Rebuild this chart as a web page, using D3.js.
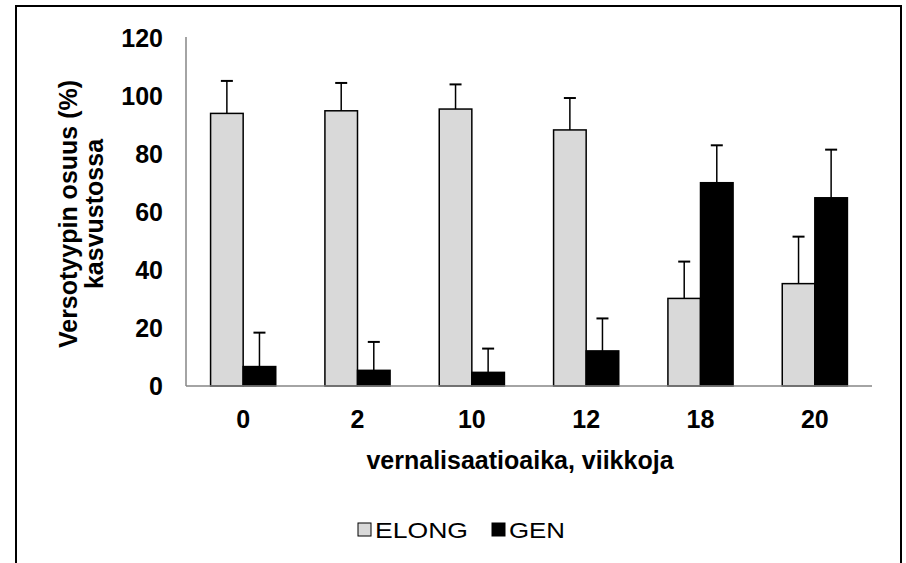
<!DOCTYPE html>
<html>
<head>
<meta charset="utf-8">
<script src="https://cdnjs.cloudflare.com/ajax/libs/d3/7.8.5/d3.min.js"></script>
<style>
    html, body { margin: 0; padding: 0; background: #fff; }
    svg { display: block; font-family: "Liberation Sans", Arial, sans-serif; }
</style>
</head>
<body>
<svg id="chart"></svg>
<script>
    'use strict';

    // weeks of vernalisation
    var categories = ['0', '2', '10', '12', '18', '20'];
    var seriesNames = ['ELONG', 'GEN'];
    var elongValues = [94.0, 94.9, 95.5, 88.3, 30.2, 35.3];
    var elongErrors = [11.2, 9.6, 8.5, 11.0, 12.7, 16.2];
    var genValues = [6.7, 5.4, 4.7, 12.1, 70.1, 64.9];
    var genErrors = [11.7, 9.8, 8.2, 11.2, 12.9, 16.6];
    var yTicks = [0, 20, 40, 60, 80, 100, 120];
    var seriesColors = ['#d9d9d9', '#000000'];

    (function (d3) {
        var width = 906;
        var height = 563;
        var boldSize = 25;

        var plotLeft = 186, plotRight = 872, plotTop = 38, plotBottom = 386;

        var svg = d3.select('#chart')
            .attr('width', width)
            .attr('height', height);

        // outer frame (bottom edge runs off the picture)
        svg.append('rect')
            .attr('x', 16)
            .attr('y', 6)
            .attr('width', 885)
            .attr('height', 600)
            .attr('fill', 'none')
            .attr('stroke', '#000')
            .attr('stroke-width', 2);

        var scaleX = d3.scaleBand()
            .domain(categories)
            .range([plotLeft, plotRight])
            .paddingInner(0.43)
            .paddingOuter(0.215);

        var scaleSeries = d3.scaleBand()
            .domain(seriesNames)
            .range([0, scaleX.bandwidth()]);

        var scaleY = d3.scaleLinear()
            .domain([0, 120])
            .range([plotBottom, plotTop]);

        var rows = categories.map(function (c, i) {
            return {
                category: c,
                values: [
                    {name: 'ELONG', value: elongValues[i], err: elongErrors[i], color: seriesColors[0]},
                    {name: 'GEN', value: genValues[i], err: genErrors[i], color: seriesColors[1]}
                ]
            };
        });

        // y axis
        var yAxis = d3.axisLeft(scaleY).tickValues(yTicks).tickSize(0).tickPadding(23);
        svg.append('g')
            .attr('transform', 'translate(' + plotLeft + ',0)')
            .call(function (g) {
                g.call(yAxis);
                g.select('.domain').attr('stroke', '#868686').attr('stroke-width', 1.5)
                    .attr('d', 'M0,' + (plotTop - 1) + 'V' + plotBottom);
                g.selectAll('.tick text')
                    .attr('fill', '#000')
                    .attr('font-size', boldSize)
                    .attr('font-weight', 'bold')
                    .attr('font-family', '"Liberation Sans", Arial, sans-serif');
            });

        var groups = svg.append('g').selectAll('g.group')
            .data(rows)
            .join('g')
            .attr('class', 'group')
            .attr('transform', function (d) { return 'translate(' + scaleX(d.category) + ',0)'; });

        groups.selectAll('rect')
            .data(function (d) { return d.values; })
            .join('rect')
            .attr('x', function (d) { return scaleSeries(d.name); })
            .attr('y', function (d) { return scaleY(d.value); })
            .attr('width', scaleSeries.bandwidth())
            .attr('height', function (d) { return scaleY(0) - scaleY(d.value); })
            .attr('fill', function (d) { return d.color; })
            .attr('stroke', '#000')
            .attr('stroke-width', 1.5);

        // error bars, upper half only
        var errs = groups.selectAll('g.err')
            .data(function (d) { return d.values; })
            .join('g')
            .attr('class', 'err')
            .attr('transform', function (d) { return 'translate(' + (scaleSeries(d.name) + scaleSeries.bandwidth() / 2) + ',0)'; });

        errs.append('line')
            .attr('x1', 0).attr('x2', 0)
            .attr('y1', function (d) { return scaleY(d.value); })
            .attr('y2', function (d) { return scaleY(d.value + d.err); })
            .attr('stroke', '#000')
            .attr('stroke-width', 1.5);

        errs.append('line')
            .attr('x1', -6).attr('x2', 6)
            .attr('y1', function (d) { return scaleY(d.value + d.err); })
            .attr('y2', function (d) { return scaleY(d.value + d.err); })
            .attr('stroke', '#000')
            .attr('stroke-width', 2);

        // x axis
        var xAxis = d3.axisBottom(scaleX).tickSize(0).tickPadding(24);
        svg.append('g')
            .attr('transform', 'translate(0,' + plotBottom + ')')
            .call(function (g) {
                g.call(xAxis);
                g.select('.domain').attr('stroke', '#868686').attr('stroke-width', 1.5)
                    .attr('d', 'M' + plotLeft + ',0H' + plotRight);
                g.selectAll('.tick text')
                    .attr('fill', '#000')
                    .attr('font-size', boldSize)
                    .attr('font-weight', 'bold')
                    .attr('font-family', '"Liberation Sans", Arial, sans-serif');
            });

        svg.append('text')
            .attr('x', 520)
            .attr('y', 469)
            .attr('text-anchor', 'middle')
            .attr('font-size', boldSize)
            .attr('font-weight', 'bold')
            .text('vernalisaatioaika, viikkoja');

        var yLabel = svg.append('text')
            .attr('transform', 'translate(77,' + ((plotTop + plotBottom) / 2 + 2) + ') rotate(-90)')
            .attr('text-anchor', 'middle')
            .attr('font-size', boldSize)
            .attr('font-weight', 'bold');
        yLabel.append('tspan').attr('x', 0).attr('dy', 0).text('Versotyypin osuus (%)');
        yLabel.append('tspan').attr('x', 0).attr('dy', 26).text('kasvustossa');

        // legend, text is drawn a little wide like in the original
        var legendX = [358, 492];
        var legendTextWidth = [93, 56];
        var legend = svg.append('g').selectAll('g')
            .data(seriesNames)
            .join('g')
            .attr('transform', function (d, i) { return 'translate(' + legendX[i] + ',523)'; });

        legend.append('rect')
            .attr('width', 13)
            .attr('height', 13)
            .attr('fill', function (d, i) { return seriesColors[i]; })
            .attr('stroke', '#000')
            .attr('stroke-width', 1);

        legend.append('text')
            .attr('x', 17)
            .attr('y', 14.5)
            .attr('font-size', 22)
            .attr('textLength', function (d, i) { return legendTextWidth[i]; })
            .attr('lengthAdjust', 'spacingAndGlyphs')
            .text(function (d) { return d; });
    }(window.d3));
</script>
</body>
</html>
